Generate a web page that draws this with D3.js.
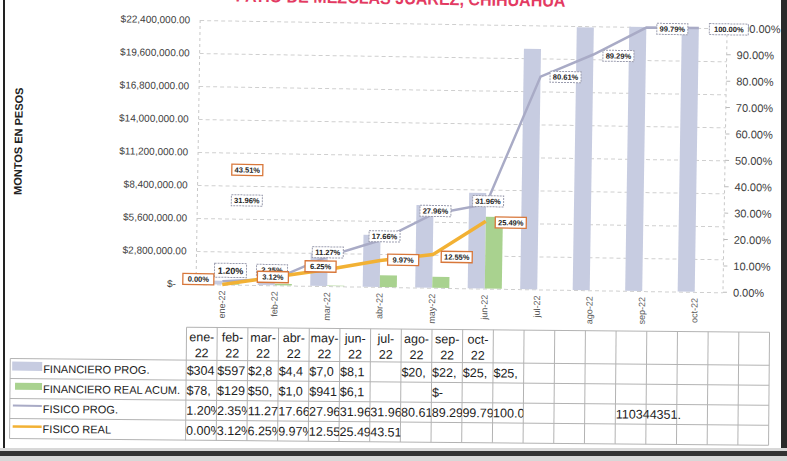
<!DOCTYPE html>
<html>
<head>
<meta charset="utf-8">
<title>Avance fisico financiero</title>
<script src="https://d3js.org/d3.v7.min.js"></script>
<style>
    body { margin: 0; background: #fff; }
    svg { display: block; font-family: "Liberation Sans", Arial, sans-serif; }
</style>
</head>
<body>
<div id="chart"></div>
<script>
    // categories
    var months = ["ene-22", "feb-22", "mar-22", "abr-22", "may-22", "jun-22", "jul-22", "ago-22", "sep-22", "oct-22"];

    // financiero (pesos), left axis
    var finProg = [304000, 597000, 2800000, 4400000, 7000000, 8100000, 20400000, 22300000, 25000000, 25000000];
    var finReal = [78000, 129000, 50000, 1000000, 941000, 6100000, null, null, null, null];

    // fisico (%), right axis
    var fisProg = [1.20, 2.35, 11.27, 17.66, 27.96, 31.96, 80.61, 89.29, 99.79, 100.00];
    var fisReal = [0.00, 3.12, 6.25, 9.97, 12.55, 25.49];

    // two stray labels that sit near the left of the plot
    var strayText = ["43.51%", "31.96%"];
    var strayValue = [43.51, 31.96];

    // axis ticks
    var moneyTicks = [0, 2800000, 5600000, 8400000, 11200000, 14000000, 16800000, 19600000, 22400000];
    var pctTicks = [0, 10, 20, 30, 40, 50, 60, 70, 80, 90, 100];

    // data table text, as printed below the chart
    var tableLegend = ["FINANCIERO PROG.", "FINANCIERO REAL ACUM.", "FISICO PROG.", "FISICO REAL"];
    var tableFinProg = ["$304", "$597", "$2,8", "$4,4", "$7,0", "$8,1", "", "$20,", "$22,", "$25,", "$25,"];
    var tableFinReal = ["$78,", "$129", "$50,", "$1,0", "$941", "$6,1", "", "", "$-"];
    var tableFisProg = ["1.20%", "2.35%", "11.27", "17.66", "27.96", "31.96", "31.96", "80.61", "89.29", "99.79", "100.0"];
    var tableFisReal = ["0.00%", "3.12%", "6.25%", "9.97%", "12.55", "25.49", "43.51"];
    var tableNote = "110344351.";

    // label placement (offset of each label box from its point)
    var progLabelPos = [[8, -11], [-3, -9], [0, -4], [4, -4], [2, -3], [2, -3], [25, 0], [25, 1], [26, 1], [30, 1]];
    var realLabelPos = [[-24, -5], [-2, 0], [-7, -3], [23, -1], [24, 2], [25, 1]];

    var W = 787, H = 461;
    var pL = 198, pR = 723, pT = 24, pB = 288;

    var svg = d3.select("#chart").append("svg")
        .attr("width", W)
        .attr("height", H);

    svg.append("rect").attr("width", W).attr("height", H).attr("fill", "#fff");

    // the scan is tilted a little
    var g = svg.append("g").attr("transform", "rotate(0.9,450,160)");

    var x = d3.scaleBand()
        .domain(months)
        .range([pL, pR])
        .paddingInner(0.35)
        .paddingOuter(0.175);
    var bw = x.bandwidth();
    var cx = function(m) { return x(m) + bw / 2; };

    var yL = d3.scaleLinear().domain([0, 22400000]).range([pB, pT]).clamp(true);
    var yR = d3.scaleLinear().domain([0, 100]).range([pB, pT]);

    // title (cut off by the top of the scan)
    g.append("text")
        .attr("x", 398)
        .attr("y", 5)
        .attr("text-anchor", "middle")
        .style("font-size", "17px")
        .style("font-weight", "bold")
        .style("fill", "#e33a62")
        .attr("textLength", 330)
        .attr("lengthAdjust", "spacingAndGlyphs")
        .text("PATIO DE MEZCLAS JUAREZ, CHIHUAHUA");

    // gridlines
    g.append("g")
        .attr("transform", "translate(" + pL + ",0)")
        .call(d3.axisLeft(yL).tickValues(moneyTicks).tickSize(-(pR - pL + 2)).tickFormat(""))
        .call(function(a) { a.select(".domain").remove(); })
        .selectAll("line")
        .attr("stroke", "#cfcfcf")
        .attr("stroke-dasharray", "4,3");

    // vertical axis lines
    g.append("line").attr("x1", pL).attr("x2", pL).attr("y1", pT).attr("y2", pB)
        .attr("stroke", "#c8c8c8").attr("stroke-dasharray", "3,3");
    g.append("line").attr("x1", pR + 2).attr("x2", pR + 2).attr("y1", pT).attr("y2", pB)
        .attr("stroke", "#c8c8c8").attr("stroke-dasharray", "3,3");
    g.selectAll(".rtick").data(pctTicks).enter().append("line")
        .attr("x1", pR + 2).attr("x2", pR + 6)
        .attr("y1", function(d) { return yR(d); }).attr("y2", function(d) { return yR(d); })
        .attr("stroke", "#bbb");

    // left axis labels
    var money = d3.format("$,.2f");
    g.selectAll(".ylab").data(moneyTicks).enter().append("text")
        .attr("x", function(d) { return d === 0 ? 178 : 188; })
        .attr("y", function(d) { return yL(d) + 3.5; })
        .attr("text-anchor", "end")
        .style("font-size", "10px")
        .style("fill", "#404040")
        .text(function(d) { return d === 0 ? "$-" : money(d); });

    // right axis labels
    g.selectAll(".rlab").data(pctTicks).enter().append("text")
        .attr("x", 735)
        .attr("y", function(d) { return yR(d) + 4; })
        .style("font-size", "11px")
        .style("fill", "#404040")
        .text(function(d) { return d.toFixed(2) + "%"; });

    // y axis title
    g.append("text")
        .attr("transform", "translate(22,148) rotate(-90)")
        .attr("text-anchor", "middle")
        .style("font-size", "11px")
        .style("font-weight", "bold")
        .style("fill", "#222")
        .text("MONTOS EN PESOS");

    // month labels
    g.selectAll(".xlab").data(months).enter().append("text")
        .attr("transform", function(d) { return "translate(" + (cx(d) + 3) + ",294) rotate(-90)"; })
        .attr("text-anchor", "end")
        .style("font-size", "9px")
        .style("fill", "#595959")
        .text(function(d) { return d; });

    // bars
    g.selectAll(".bprog").data(months).enter().append("rect")
        .attr("x", function(d) { return x(d); })
        .attr("width", bw / 2)
        .attr("y", function(d, i) { return yL(finProg[i]); })
        .attr("height", function(d, i) { return pB - yL(finProg[i]); })
        .attr("fill", "#c7cce1");
    g.selectAll(".breal").data(months.filter(function(d, i) { return finReal[i] != null; })).enter().append("rect")
        .attr("x", function(d) { return x(d) + bw / 2; })
        .attr("width", bw / 2)
        .attr("y", function(d, i) { return yL(finReal[i]); })
        .attr("height", function(d, i) { return pB - yL(finReal[i]); })
        .attr("fill", "#a9d28f");

    // lines
    var lineFor = d3.line()
        .x(function(d, i) { return cx(months[i]); })
        .y(function(d) { return yR(d); });
    g.append("path").datum(fisProg)
        .attr("d", lineFor)
        .attr("fill", "none")
        .attr("stroke", "#a9abc6")
        .attr("stroke-width", 2.5);
    g.append("path").datum(fisReal)
        .attr("d", lineFor)
        .attr("fill", "none")
        .attr("stroke", "#f2b134")
        .attr("stroke-width", 3.5);

    // data label boxes
    function box(px, py, txt, orange, big) {
        var w = txt.length > 6 ? 39 : (big ? 32 : 31), h = big ? 14 : 11;
        var lg = g.append("g");
        lg.append("rect")
            .attr("x", px - w / 2).attr("y", py - h / 2)
            .attr("width", w).attr("height", h)
            .attr("fill", "#fff")
            .attr("stroke", orange ? "#d8773a" : "#9a9cae")
            .attr("stroke-width", orange ? 1.3 : 1)
            .attr("stroke-dasharray", orange ? null : "2,1");
        lg.append("text")
            .attr("x", px).attr("y", py + (big ? 3.5 : 2.7))
            .attr("text-anchor", "middle")
            .style("font-size", big ? "9px" : "7.5px")
            .style("font-weight", "bold")
            .style("fill", "#222")
            .text(txt);
    }

    fisProg.forEach(function(v, i) {
        box(cx(months[i]) + progLabelPos[i][0], yR(v) + progLabelPos[i][1], v.toFixed(2) + "%", false, i === 0);
    });
    fisReal.forEach(function(v, i) {
        box(cx(months[i]) + realLabelPos[i][0], yR(v) + realLabelPos[i][1], v.toFixed(2) + "%", true, false);
    });
    strayValue.forEach(function(v, i) {
        box(cx(months[0]) + x.step() / 2 - 3, yR(v), strayText[i], i === 0, false);
    });

    // data table
    var t = svg.append("g").attr("transform", "rotate(0.5,400,390)");
    var tx0 = 186, tcols = 19, tcw = (769 - tx0) / tcols;
    var rowY = [362, 382, 402, 422, 442];

    // one clip per table column, numbers are cut at the cell edge
    var defs = svg.append("defs");
    d3.range(tcols).forEach(function(c) {
        defs.append("clipPath").attr("id", "col" + c)
            .append("rect")
            .attr("x", tx0 + c * tcw).attr("y", 329)
            .attr("width", tcw).attr("height", 113);
    });

    t.selectAll(".hl").data(rowY).enter().append("line")
        .attr("x1", 10).attr("x2", tx0 + tcols * tcw)
        .attr("y1", function(d) { return d; }).attr("y2", function(d) { return d; })
        .attr("stroke", "#b3b3b3");
    t.append("line").attr("x1", tx0).attr("x2", tx0 + tcols * tcw).attr("y1", 329).attr("y2", 329)
        .attr("stroke", "#b3b3b3");
    t.append("line").attr("x1", 10).attr("x2", 10).attr("y1", 362).attr("y2", 442)
        .attr("stroke", "#b3b3b3");
    t.selectAll(".vl").data(d3.range(tcols + 1)).enter().append("line")
        .attr("x1", function(d) { return tx0 + d * tcw; })
        .attr("x2", function(d) { return tx0 + d * tcw; })
        .attr("y1", 329).attr("y2", 442)
        .attr("stroke", "#b3b3b3");

    // header: month split in two lines
    months.forEach(function(m, i) {
        var parts = m.split("-");
        var hx = tx0 + (i + 0.5) * tcw;
        t.append("text").attr("x", hx).attr("y", 343).attr("text-anchor", "middle")
            .style("font-size", "12.5px").style("fill", "#222").text(parts[0] + "-");
        t.append("text").attr("x", hx).attr("y", 359).attr("text-anchor", "middle")
            .style("font-size", "12.5px").style("fill", "#222").text(parts[1]);
    });

    // legend keys
    t.append("rect").attr("x", 12).attr("y", 365).attr("width", 30).attr("height", 9).attr("fill", "#c7cce1");
    t.append("rect").attr("x", 15).attr("y", 386).attr("width", 27).attr("height", 7).attr("fill", "#a9d28f");
    t.append("line").attr("x1", 13).attr("x2", 42).attr("y1", 409).attr("y2", 409)
        .attr("stroke", "#a9abc6").attr("stroke-width", 2);
    t.append("line").attr("x1", 13).attr("x2", 42).attr("y1", 430).attr("y2", 430)
        .attr("stroke", "#f2b134").attr("stroke-width", 2.5);

    tableLegend.forEach(function(s, r) {
        t.append("text").attr("x", 43).attr("y", rowY[r] + 14)
            .style("font-size", "11px").style("fill", "#222").text(s);
    });

    [tableFinProg, tableFinReal, tableFisProg, tableFisReal].forEach(function(row, r) {
        row.forEach(function(s, c) {
            if (!s) return;
            t.append("text").attr("x", tx0 + c * tcw + 0.5).attr("y", rowY[r] + 14.5)
                .attr("clip-path", "url(#col" + c + ")")
                .style("font-size", "12.5px").style("fill", "#222").text(s);
        });
    });
    // text in an empty cell runs over the next cells
    t.append("text").attr("x", tx0 + 14 * tcw + 0.5).attr("y", rowY[2] + 14.5)
        .style("font-size", "12.5px").style("fill", "#222").text(tableNote);

    // scanner edges
    svg.append("rect").attr("x", 3).attr("y", 0).attr("width", 2).attr("height", 448).attr("fill", "#222");
    svg.append("rect").attr("x", 781).attr("y", 0).attr("width", 6).attr("height", 450).attr("fill", "#2a2a2a");
    svg.append("rect").attr("x", 0).attr("y", 448).attr("width", W).attr("height", 13).attr("fill", "#d8d8d8");
    svg.append("rect").attr("x", 0).attr("y", 451).attr("width", W).attr("height", 5).attr("fill", "#333");
</script>
</body>
</html>
